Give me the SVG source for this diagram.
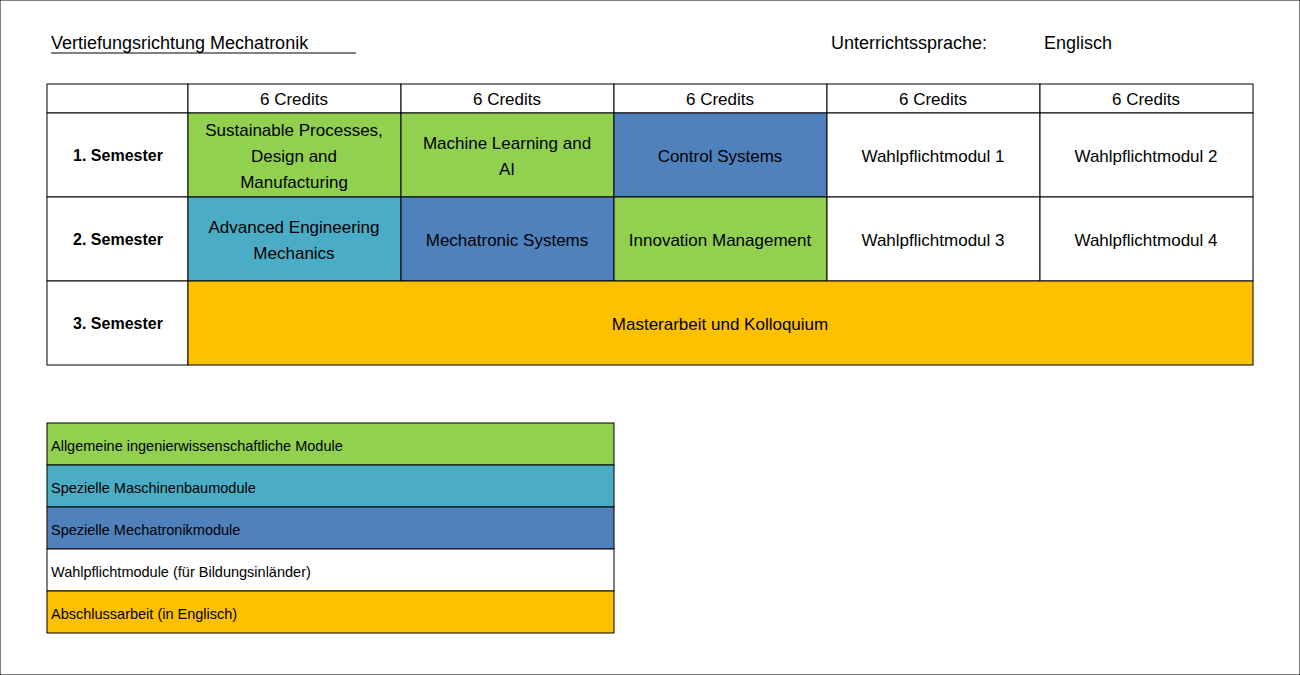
<svg xmlns="http://www.w3.org/2000/svg" width="1300" height="675" viewBox="0 0 1300 675">
<style>
text{font-family:"Liberation Sans","DejaVu Sans",sans-serif;fill:#000}
.c{font-size:17px;text-anchor:middle}
.b{font-size:16px;font-weight:bold;text-anchor:middle}
.l{font-size:14.5px}
rect{stroke:#000;stroke-width:1}
.g{fill:#92D050}.t{fill:#4BACC6}.u{fill:#4F81BD}.w{fill:#fff}.o{fill:#FFC000}
</style>
<rect width="1300" height="675" fill="#fff" stroke="none"/>
<text x="51" y="49" style="font-size:18px">Vertiefungsrichtung Mechatronik </text>
<line x1="51" y1="53" x2="356" y2="53" stroke="#000" stroke-width="1"/>
<text x="831" y="49" style="font-size:18px">Unterrichtssprache:</text>
<text x="1044" y="49" style="font-size:18px">Englisch</text>
<g id="table">
<rect class="w" x="47" y="84" width="141" height="29"/>
<rect class="w" x="188" y="84" width="213" height="29"/><text class="c" x="294" y="105">6 Credits</text>
<rect class="w" x="401" y="84" width="213" height="29"/><text class="c" x="507" y="105">6 Credits</text>
<rect class="w" x="614" y="84" width="213" height="29"/><text class="c" x="720" y="105">6 Credits</text>
<rect class="w" x="827" y="84" width="213" height="29"/><text class="c" x="933" y="105">6 Credits</text>
<rect class="w" x="1040" y="84" width="213" height="29"/><text class="c" x="1146" y="105">6 Credits</text>
<rect class="w" x="47" y="113" width="141" height="84"/><text class="b" x="118" y="161">1. Semester</text>
<rect class="g" x="188" y="113" width="213" height="84"/><text class="c" x="294" y="136">Sustainable Processes,</text><text class="c" x="294" y="162">Design and</text><text class="c" x="294" y="188">Manufacturing</text>
<rect class="g" x="401" y="113" width="213" height="84"/><text class="c" x="507" y="149">Machine Learning and</text><text class="c" x="507" y="175">AI</text>
<rect class="u" x="614" y="113" width="213" height="84"/><text class="c" x="720" y="162">Control Systems</text>
<rect class="w" x="827" y="113" width="213" height="84"/><text class="c" x="933" y="162">Wahlpflichtmodul 1</text>
<rect class="w" x="1040" y="113" width="213" height="84"/><text class="c" x="1146" y="162">Wahlpflichtmodul 2</text>
<rect class="w" x="47" y="197" width="141" height="84"/><text class="b" x="118" y="245">2. Semester</text>
<rect class="t" x="188" y="197" width="213" height="84"/><text class="c" x="294" y="233">Advanced Engineering</text><text class="c" x="294" y="259">Mechanics</text>
<rect class="u" x="401" y="197" width="213" height="84"/><text class="c" x="507" y="246">Mechatronic Systems</text>
<rect class="g" x="614" y="197" width="213" height="84"/><text class="c" x="720" y="246">Innovation Management</text>
<rect class="w" x="827" y="197" width="213" height="84"/><text class="c" x="933" y="246">Wahlpflichtmodul 3</text>
<rect class="w" x="1040" y="197" width="213" height="84"/><text class="c" x="1146" y="246">Wahlpflichtmodul 4</text>
<rect class="w" x="47" y="281" width="141" height="84"/><text class="b" x="118" y="329">3. Semester</text>
<rect class="o" x="188" y="281" width="1065" height="84"/><text class="c" x="720" y="330">Masterarbeit und Kolloquium</text>
</g>
<g id="legend">
<rect class="g" x="47" y="423" width="567" height="42"/><text class="l" x="51" y="451">Allgemeine ingenierwissenschaftliche Module</text>
<rect class="t" x="47" y="465" width="567" height="42"/><text class="l" x="51" y="493">Spezielle Maschinenbaumodule</text>
<rect class="u" x="47" y="507" width="567" height="42"/><text class="l" x="51" y="535">Spezielle Mechatronikmodule</text>
<rect class="w" x="47" y="549" width="567" height="42"/><text class="l" x="51" y="577">Wahlpflichtmodule (für Bildungsinländer)</text>
<rect class="o" x="47" y="591" width="567" height="42"/><text class="l" x="51" y="619">Abschlussarbeit (in Englisch)</text>
</g>
</svg>
